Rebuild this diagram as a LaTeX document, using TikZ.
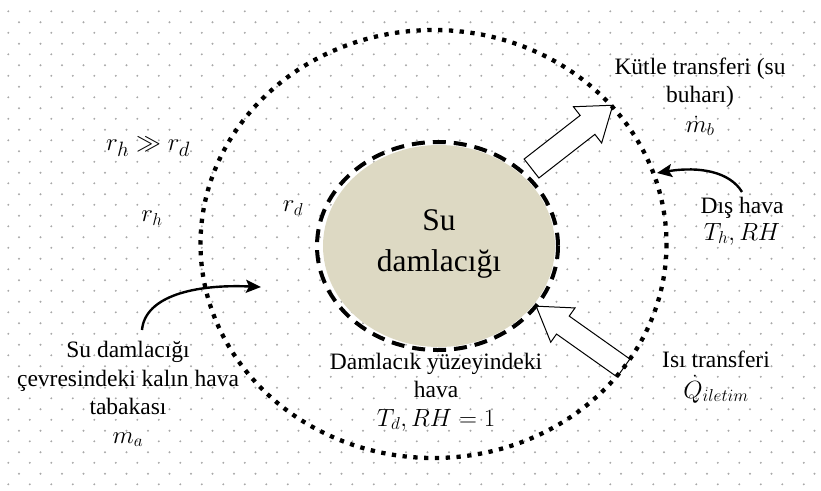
\documentclass[tikz,border=0pt]{standalone}
\usepackage{fontspec}
\setmainfont{Liberation Serif}
\usetikzlibrary{arrows.meta}
\definecolor{droplet}{HTML}{DDD9C3}
\definecolor{griddot}{HTML}{A8A8A8}
\begin{document}
\begin{tikzpicture}[x=1pt,y=-1pt,
  label text/.style={align=center, font=\fontsize{23.5}{28.5}\selectfont, inner sep=0pt},
  big text/.style={align=center, font=\fontsize{31.5}{41}\selectfont, inner sep=0pt},
  math text/.style={inner sep=0pt, font=\fontsize{28}{34}\selectfont},
  hollow arrow/.style={draw=black, fill=white, line width=1pt, line join=miter},
  curved arrow/.style={line width=2.4pt, -{Stealth[length=15pt,width=13pt,inset=3pt]}},
  surface line/.style={line width=4pt, dash pattern=on 13pt off 8pt},
  layer line/.style={line width=4.3pt, dash pattern=on 4.3pt off 6.5pt},
]
\useasboundingbox (0,0) rectangle (821,490);

% dotted paper background
\foreach \i in {0,...,38}{
  \foreach \j in {0,...,22}{
    \fill[griddot] ({8.3+21.5*\i},{11.3+21.5*\j}) circle (1.1pt);
    \fill[griddot] ({19+21.5*\i},{22.3+21.5*\j}) circle (1.1pt);
  }
}

% the water droplet
\fill[droplet] (439,246) ellipse [x radius=116, y radius=101];
\node[big text] (drop) at (439,244) {Su\\damlacığı};

% mass transfer out of the droplet
\begin{scope}[shift={(531.5,168.5)}, rotate=37.9]
  \draw[hollow arrow] (0,-12) -- (71,-12) -- (71,-23) -- (103,0) -- (71,23) -- (71,12) -- (0,12) -- cycle;
\end{scope}
% heat conduction towards the droplet
\begin{scope}[shift={(623.5,368)}, rotate=144.7]
  \draw[hollow arrow] (0,-11) -- (74.3,-11) -- (74.3,-21) -- (107,0) -- (74.3,21) -- (74.3,11) -- (0,11) -- cycle;
\end{scope}

% droplet surface and surrounding air layer
\draw[surface line] (437.5,246) ellipse [x radius=120.5, y radius=104];
\draw[layer line] (433.5,244) ellipse [x radius=233, y radius=214];

% labels (base anchor = baseline of the last line)
\node[math text] (ratio) at (148,147) {$r_h \gg r_d$};
\node[label text] (rh) at (152,218) {$r_h$};
\node[label text] (rd) at (293,208) {$r_d$};

\node[label text, anchor=base] (mass) at (700,132) {Kütle transferi (su\\buharı)\\[1pt]$\dot{m}_b$};
\node[label text, anchor=base] (outer) at (742,240) {Dış hava\\[-1.5pt]$T_h, RH$};
\node[label text, anchor=base] (heat) at (716,398) {Isı transferi\\[2pt]$\dot{Q}_{iletim}$};
\node[label text, anchor=base] (surf) at (436,426) {Damlacık yüzeyindeki\\hava\\$T_d, RH = 1$};
\node[label text, anchor=base] (layer) at (128,443) {Su damlacığı\\çevresindeki kalın hava\\tabakası\\$m_a$};

% pointers
\coordinate (outerfrom) at (742,192);
\coordinate (outerto) at (657,173);
\coordinate (layerfrom) at (142,330);
\coordinate (layerto) at (261,287);
\draw[curved arrow] (outerfrom) .. controls (730,172) and (700,166) .. (outerto);
\draw[curved arrow] (layerfrom) .. controls (145,296) and (195,284) .. (layerto);
\end{tikzpicture}
\end{document}
